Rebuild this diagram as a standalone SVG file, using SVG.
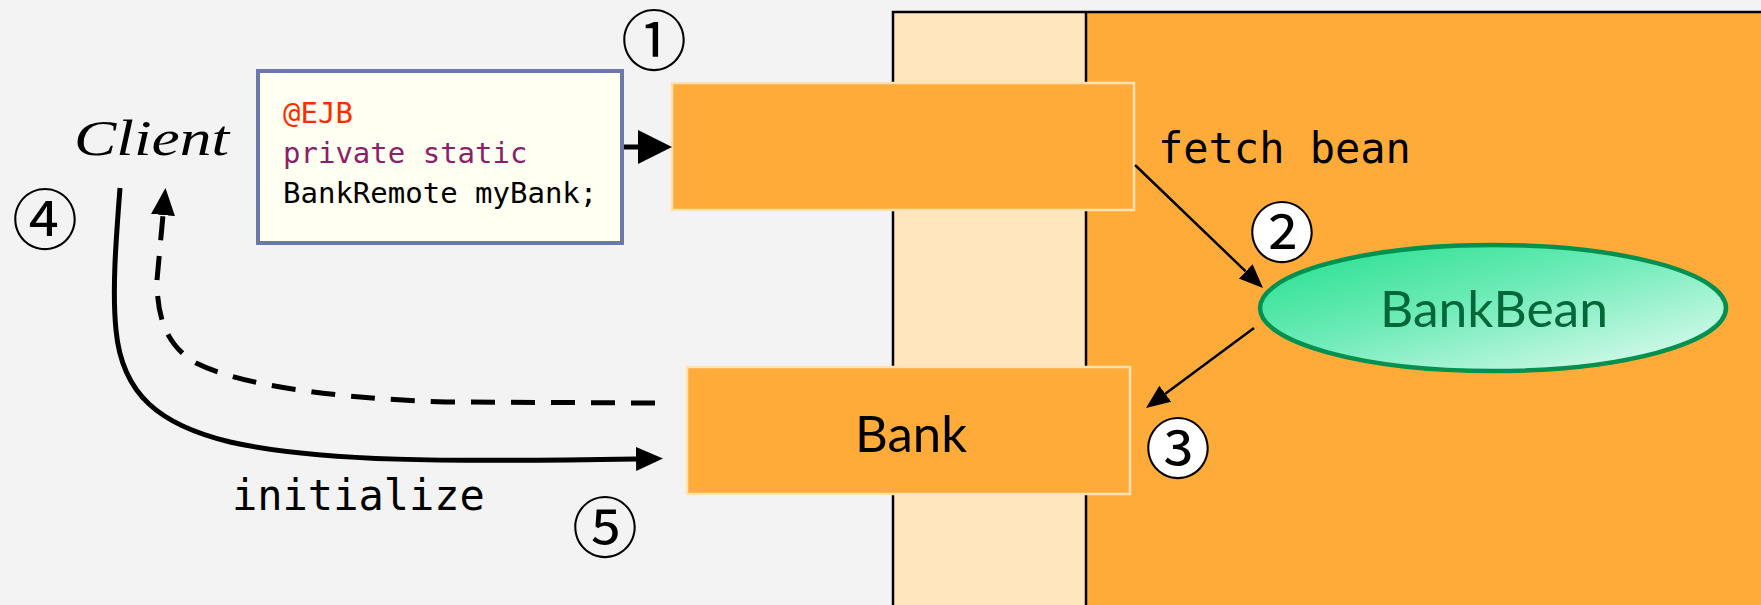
<svg xmlns="http://www.w3.org/2000/svg" width="1761" height="605" viewBox="0 0 1761 605">
  <defs>
    <linearGradient id="beanFill" x1="0" y1="0" x2="1" y2="1">
      <stop offset="0" stop-color="#1fdf8c"/>
      <stop offset="0.45" stop-color="#6febb8"/>
      <stop offset="1" stop-color="#eafdf4"/>
    </linearGradient>
    <marker id="headLg" markerUnits="userSpaceOnUse" markerWidth="36" markerHeight="36" viewBox="0 -18 36 36" refX="0" refY="0" orient="auto">
      <path d="M0,-17 L34,0 L0,17 z" fill="#000"/>
    </marker>
    <marker id="headMd" markerUnits="userSpaceOnUse" markerWidth="30" markerHeight="30" viewBox="0 -15 30 30" refX="0" refY="0" orient="auto">
      <path d="M0,-12 L27,0 L0,12 z" fill="#000"/>
    </marker>
    <marker id="headSm" markerUnits="userSpaceOnUse" markerWidth="26" markerHeight="26" viewBox="0 -13 26 26" refX="0" refY="0" orient="auto">
      <path d="M0,-10 L24,0 L0,10 z" fill="#000"/>
    </marker>
  </defs>
  <style>
    .mono { font-family: "DejaVu Sans Mono", "Liberation Mono", monospace; }
    .label { font-family: Lato, "Noto Sans", sans-serif; font-size: 50px; }
    .step { font-family: "DejaVu Serif", "Noto Sans CJK JP", serif; font-size: 66px; text-anchor: middle; fill: #000; }
    .box { fill: #ffab3a; stroke: #ffe2b4; stroke-width: 2.5; }
    .thin { fill: none; stroke: #000; stroke-width: 2.5; }
    .thick { fill: none; stroke: #000; stroke-width: 5; }
  </style>

  <!-- page background -->
  <rect x="0" y="0" width="1761" height="605" fill="#f3f3f3"/>

  <!-- server container: light band plus orange interior -->
  <g id="container">
    <rect x="893" y="12" width="193" height="600" fill="#ffe6bf"/>
    <rect x="1086" y="12" width="680" height="600" fill="#ffab3a"/>
    <path d="M893,612 L893,12 L1766,12" fill="none" stroke="#000" stroke-width="2.5"/>
    <line x1="1086" y1="12" x2="1086" y2="612" stroke="#000" stroke-width="2.5"/>
  </g>

  <g id="client">
    <text x="74" y="155" font-family="'Liberation Serif', serif" font-style="italic" font-size="50" textLength="155" lengthAdjust="spacingAndGlyphs">Client</text>
  </g>

  <g id="code">
    <rect x="258" y="71" width="364" height="172" fill="#fffff2" stroke="#6a78aa" stroke-width="4"/>
    <text class="mono" font-size="29" x="283" y="123" fill="#ff2a00">@EJB</text>
    <text class="mono" font-size="29" x="283" y="163" fill="#8c1f6a">private static</text>
    <text class="mono" font-size="29" x="283" y="203" fill="#000">BankRemote myBank;</text>
  </g>

  <g id="proxy">
    <rect class="box" x="672" y="83" width="462" height="127"/>
  </g>

  <g id="bank">
    <rect class="box" x="687" y="367" width="443" height="127"/>
    <text class="label" x="855" y="452" fill="#000" textLength="112" lengthAdjust="spacingAndGlyphs">Bank</text>
  </g>

  <g id="bankbean">
    <ellipse cx="1493" cy="308" rx="233" ry="63" fill="url(#beanFill)" stroke="#009150" stroke-width="4.5"/>
    <text class="label" x="1380" y="327" fill="#006838" textLength="228" lengthAdjust="spacingAndGlyphs">BankBean</text>
  </g>

  <g id="connectors">
    <line x1="624" y1="147" x2="638" y2="147" class="thick" stroke-width="4" marker-end="url(#headLg)"/>
    <path class="thin" d="M1135,165 L1245.7,271.4" marker-end="url(#headSm)"/>
    <path class="thin" d="M1254,328 L1165.3,393.7" marker-end="url(#headSm)"/>
    <path class="thick" stroke-dasharray="24 16" d="M655,403 L446,402 C330,398 240,385 196,363 C165,345 157,315 157,280 L163,215" marker-end="url(#headMd)"/>
    <path class="thick" d="M120,188 C116,240 112,290 116,330 C122,395 160,425 230,442 C320,462 450,462 636,459" marker-end="url(#headMd)"/>
  </g>

  <g id="labels">
    <text class="mono" font-size="42" x="1158" y="163" fill="#000">fetch bean</text>
    <text class="mono" font-size="42" x="232" y="510" fill="#000">initialize</text>
  </g>

  <!-- numbered steps -->
  <g id="steps">
    <ellipse cx="1282" cy="232" rx="29" ry="30" fill="#fff"/>
    <ellipse cx="1178" cy="448" rx="29" ry="30" fill="#fff"/>
    <text class="step" x="654" y="65">①</text>
    <text class="step" x="1282" y="257">②</text>
    <text class="step" x="1178" y="473">③</text>
    <text class="step" x="45" y="244">④</text>
    <text class="step" x="605" y="552">⑤</text>
  </g>
</svg>
